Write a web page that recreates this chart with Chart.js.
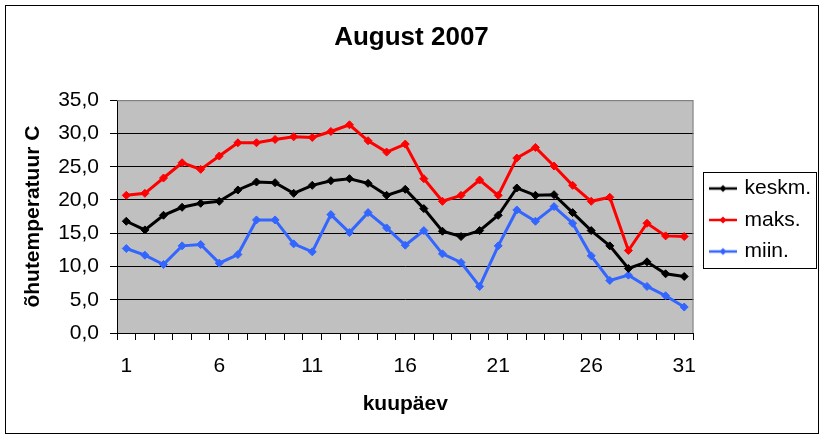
<!DOCTYPE html>
<html>
<head>
<meta charset="utf-8">
<title>August 2007</title>
<script src="https://cdn.jsdelivr.net/npm/chart.js@4.4.1/dist/chart.umd.min.js"></script>
<style>
  html, body { margin: 0; padding: 0; background: #fff; }
  #wrap { width: 826px; height: 440px; position: relative; }
</style>
</head>
<body>
<div id="wrap"><canvas id="tempChart"></canvas></div>
<script>
// data
const days = ['1','2','3','4','5','6','7','8','9','10','11','12','13','14','15','16',
              '17','18','19','20','21','22','23','24','25','26','27','28','29','30','31'];
const keskm = [16.8, 15.5, 17.7, 18.9, 19.5, 19.8, 21.5, 22.7, 22.6, 21.0, 22.2, 22.9, 23.2, 22.5, 20.7, 21.6,
               18.7, 15.3, 14.5, 15.4, 17.7, 21.8, 20.7, 20.8, 18.1, 15.4, 13.1, 9.7, 10.7, 8.9, 8.5];
const maks = [20.7, 21.0, 23.3, 25.6, 24.6, 26.6, 28.6, 28.6, 29.1, 29.5, 29.4, 30.3, 31.3, 28.9, 27.2, 28.4,
              23.2, 19.8, 20.7, 23.0, 20.7, 26.3, 27.9, 25.1, 22.2, 19.8, 20.4, 12.4, 16.5, 14.6, 14.5];
const miin = [12.7, 11.7, 10.3, 13.1, 13.3, 10.5, 11.8, 17.0, 17.0, 13.4, 12.2, 17.8, 15.1, 18.1, 15.8, 13.2,
              15.4, 11.9, 10.6, 7.0, 13.1, 18.5, 16.8, 19.0, 16.5, 11.6, 7.9, 8.7, 7.0, 5.6, 3.9];
const seriesNames = ['keskm.', 'maks.', 'miin.'];
const seriesColors = ['#000000', '#ff0000', '#3366ff'];
const yTicks = { min: 0, max: 35, step: 5 };

Chart.defaults.font.family = 'Arial, "Liberation Sans", sans-serif';
Chart.defaults.color = '#000';

// legend glyph: short line with a diamond
function makeGlyph(color) {
    const c = document.createElement('canvas');
    c.width = 40; c.height = 12;
    const g = c.getContext('2d');
    g.strokeStyle = color;
    g.lineWidth = 2.5;
    g.beginPath(); g.moveTo(10, 6); g.lineTo(38, 6); g.stroke();
    g.fillStyle = color;
    g.beginPath(); g.moveTo(24, 2.5); g.lineTo(27.5, 6); g.lineTo(24, 9.5); g.lineTo(20.5, 6); g.closePath(); g.fill();
    return c;
}
const glyphs = seriesColors.map(makeGlyph);

// grey plot area, frame round the picture, box round the legend
const excelLook = {
    id: 'excelLook',
    beforeDraw(chart) {
        const {ctx, chartArea: a} = chart;
        ctx.save();
        ctx.fillStyle = '#fff';
        ctx.fillRect(0, 0, chart.width, chart.height);
        ctx.fillStyle = '#c0c0c0';
        ctx.fillRect(a.left, a.top, a.right - a.left, a.bottom - a.top);
        ctx.restore();
    },
    beforeDatasetsDraw(chart) {
        const {ctx, chartArea: a} = chart;
        ctx.save();
        ctx.strokeStyle = '#808080';
        ctx.lineWidth = 1;
        ctx.beginPath();
        ctx.moveTo(a.left, a.top + 0.5);
        ctx.lineTo(a.right - 0.5, a.top + 0.5);
        ctx.lineTo(a.right - 0.5, a.bottom);
        ctx.stroke();
        ctx.restore();
    },
    afterDraw(chart) {
        const ctx = chart.ctx;
        ctx.save();
        ctx.strokeStyle = '#000';
        ctx.lineWidth = 1;
        ctx.strokeRect(5.5, 5.5, 813, 428);
        const boxes = chart.legend.legendHitBoxes;
        if (boxes && boxes.length) {
            const l = Math.min(...boxes.map(b => b.left)) - 1;
            const r = Math.max(...boxes.map(b => b.left + b.width)) + 5;
            const t = Math.min(...boxes.map(b => b.top)) - 6;
            const btm = Math.max(...boxes.map(b => b.top + b.height)) + 6;
            ctx.strokeRect(Math.round(l) + 0.5, Math.round(t) + 0.5, Math.round(r - l), Math.round(btm - t));
        }
        ctx.restore();
    }
};

const datasets = [keskm, maks, miin].map((values, i) => ({
    label: seriesNames[i],
    data: values,
    borderColor: seriesColors[i],
    backgroundColor: seriesColors[i],
    borderWidth: 3,
    tension: 0,
    pointStyle: 'rectRot',
    pointRadius: 4,
    pointBorderWidth: 1,
    pointHoverRadius: 4
}));

const ctx = document.getElementById('tempChart').getContext('2d');
new Chart(ctx, {
    type: 'line',
    data: { labels: days, datasets: datasets },
    options: {
        responsive: true,
        maintainAspectRatio: false,
        animation: false,
        layout: { padding: { left: 2, right: 5, top: 0, bottom: 0 } },
        plugins: {
            title: {
                display: true,
                text: 'August 2007',
                font: { size: 26, weight: 'bold' },
                color: '#000',
                padding: { top: 22, bottom: 47 }
            },
            legend: {
                position: 'right',
                labels: {
                    usePointStyle: true,
                    pointStyleWidth: 30,
                    padding: 10.5,
                    font: { size: 21 },
                    color: '#000',
                    generateLabels(chart) {
                        const items = Chart.defaults.plugins.legend.labels.generateLabels(chart);
                        items.forEach((it, i) => { it.pointStyle = glyphs[i]; });
                        return items;
                    }
                }
            },
            tooltip: { enabled: false }
        },
        scales: {
            x: {
                offset: true,
                grid: {
                    offset: true,
                    drawOnChartArea: false,
                    drawTicks: true,
                    tickLength: 7,
                    tickColor: '#000'
                },
                border: { color: '#000', width: 1 },
                ticks: {
                    autoSkip: false,
                    maxRotation: 0,
                    padding: 14,
                    font: { size: 21 },
                    callback: function(value, index) {
                        return index % 5 === 0 ? days[index] : '';
                    }
                },
                title: {
                    display: true,
                    text: 'kuupäev',
                    font: { size: 21, weight: 'bold' },
                    padding: { top: 0, bottom: 23 }
                },
                afterFit(scale) { scale.height = 107; }
            },
            y: {
                min: yTicks.min,
                max: yTicks.max,
                grid: {
                    color: c => (c.tick && c.tick.value === yTicks.max) ? '#808080' : '#000',
                    tickColor: '#000',
                    tickLength: 7,
                    lineWidth: 1
                },
                border: { color: '#000', width: 1 },
                ticks: {
                    stepSize: yTicks.step,
                    padding: 11,
                    font: { size: 21 },
                    callback: v => v.toFixed(1).replace('.', ',')
                },
                title: {
                    display: true,
                    text: 'õhutemperatuur C',
                    font: { size: 21, weight: 'bold' },
                    padding: { top: 19, bottom: 0 }
                },
                afterFit(scale) { scale.width = 115; }
            }
        }
    },
    plugins: [excelLook]
});
</script>
</body>
</html>
